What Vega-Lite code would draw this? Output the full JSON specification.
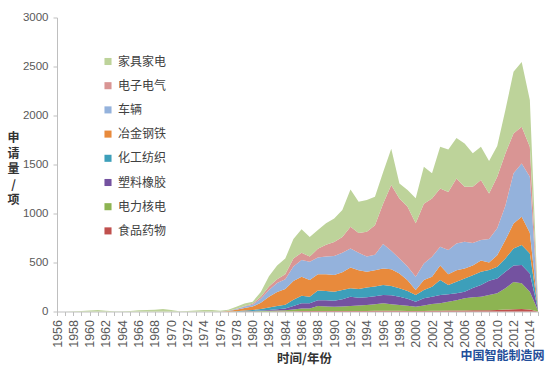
{
  "$schema": "https://vega.github.io/schema/vega-lite/v6.json",
  "width": 481,
  "height": 294,
  "autosize": {"type": "none"},
  "padding": {"left": 57, "top": 17.5, "right": 10, "bottom": 61.5},
  "background": "white",
  "config": {"view": {"stroke": null}, "font": "Noto Sans CJK SC"},
  "datasets": {
    "names": [
      {"key": "furn", "series": "家具家电", "k": 8},
      {"key": "elec", "series": "电子电气", "k": 7},
      {"key": "vehicle", "series": "车辆", "k": 6},
      {"key": "metal", "series": "冶金钢铁", "k": 5},
      {"key": "chem", "series": "化工纺织", "k": 4},
      {"key": "plastic", "series": "塑料橡胶", "k": 3},
      {"key": "power", "series": "电力核电", "k": 2},
      {"key": "food", "series": "食品药物", "k": 1}
    ]
  },
  "data": {"values": [
    {"year":1956,"food":0,"power":0,"plastic":0,"chem":0,"metal":0,"vehicle":0,"elec":0,"furn":0},
    {"year":1957,"food":0,"power":0,"plastic":0,"chem":0,"metal":0,"vehicle":0,"elec":0,"furn":0},
    {"year":1958,"food":0,"power":0,"plastic":0,"chem":0,"metal":0,"vehicle":0,"elec":0,"furn":2},
    {"year":1959,"food":0,"power":0,"plastic":0,"chem":0,"metal":0,"vehicle":0,"elec":0,"furn":5},
    {"year":1960,"food":0,"power":0,"plastic":0,"chem":0,"metal":0,"vehicle":0,"elec":0,"furn":10},
    {"year":1961,"food":0,"power":0,"plastic":0,"chem":0,"metal":0,"vehicle":0,"elec":0,"furn":15},
    {"year":1962,"food":0,"power":0,"plastic":0,"chem":0,"metal":0,"vehicle":0,"elec":0,"furn":8},
    {"year":1963,"food":0,"power":0,"plastic":0,"chem":0,"metal":0,"vehicle":0,"elec":0,"furn":3},
    {"year":1964,"food":0,"power":0,"plastic":0,"chem":0,"metal":0,"vehicle":0,"elec":0,"furn":2},
    {"year":1965,"food":0,"power":0,"plastic":0,"chem":0,"metal":0,"vehicle":0,"elec":0,"furn":5},
    {"year":1966,"food":0,"power":0,"plastic":0,"chem":0,"metal":0,"vehicle":0,"elec":0,"furn":12},
    {"year":1967,"food":0,"power":0,"plastic":0,"chem":0,"metal":0,"vehicle":0,"elec":0,"furn":15},
    {"year":1968,"food":0,"power":0,"plastic":0,"chem":0,"metal":0,"vehicle":0,"elec":0,"furn":18},
    {"year":1969,"food":0,"power":0,"plastic":0,"chem":0,"metal":0,"vehicle":0,"elec":0,"furn":25},
    {"year":1970,"food":0,"power":0,"plastic":0,"chem":0,"metal":0,"vehicle":0,"elec":0,"furn":15},
    {"year":1971,"food":0,"power":0,"plastic":0,"chem":0,"metal":0,"vehicle":0,"elec":0,"furn":3},
    {"year":1972,"food":0,"power":0,"plastic":0,"chem":0,"metal":0,"vehicle":0,"elec":0,"furn":5},
    {"year":1973,"food":0,"power":0,"plastic":0,"chem":0,"metal":0,"vehicle":0,"elec":0,"furn":10},
    {"year":1974,"food":0,"power":0,"plastic":0,"chem":0,"metal":0,"vehicle":0,"elec":0,"furn":15},
    {"year":1975,"food":0,"power":0,"plastic":0,"chem":0,"metal":0,"vehicle":0,"elec":0,"furn":15},
    {"year":1976,"food":0,"power":0,"plastic":0,"chem":0,"metal":0,"vehicle":0,"elec":0,"furn":8},
    {"year":1977,"food":0,"power":0,"plastic":0,"chem":0,"metal":5,"vehicle":3,"elec":0,"furn":10},
    {"year":1978,"food":0,"power":0,"plastic":0,"chem":3,"metal":15,"vehicle":8,"elec":3,"furn":20},
    {"year":1979,"food":0,"power":2,"plastic":2,"chem":6,"metal":25,"vehicle":15,"elec":6,"furn":25},
    {"year":1980,"food":0,"power":3,"plastic":3,"chem":9,"metal":35,"vehicle":20,"elec":10,"furn":20},
    {"year":1981,"food":1,"power":4,"plastic":5,"chem":15,"metal":65,"vehicle":40,"elec":20,"furn":50},
    {"year":1982,"food":1,"power":7,"plastic":7,"chem":25,"metal":110,"vehicle":70,"elec":35,"furn":105},
    {"year":1983,"food":2,"power":8,"plastic":12,"chem":33,"metal":145,"vehicle":90,"elec":40,"furn":140},
    {"year":1984,"food":2,"power":10,"plastic":18,"chem":40,"metal":160,"vehicle":100,"elec":50,"furn":160},
    {"year":1985,"food":3,"power":17,"plastic":35,"chem":65,"metal":190,"vehicle":150,"elec":80,"furn":200},
    {"year":1986,"food":4,"power":26,"plastic":55,"chem":75,"metal":195,"vehicle":170,"elec":75,"furn":240},
    {"year":1987,"food":4,"power":26,"plastic":55,"chem":65,"metal":171,"vehicle":187,"elec":52,"furn":200},
    {"year":1988,"food":5,"power":50,"plastic":60,"chem":100,"metal":165,"vehicle":170,"elec":90,"furn":191},
    {"year":1989,"food":5,"power":45,"plastic":65,"chem":95,"metal":170,"vehicle":180,"elec":120,"furn":220},
    {"year":1990,"food":5,"power":44,"plastic":61,"chem":92,"metal":170,"vehicle":194,"elec":144,"furn":240},
    {"year":1991,"food":5,"power":47,"plastic":73,"chem":95,"metal":180,"vehicle":200,"elec":160,"furn":275},
    {"year":1992,"food":6,"power":50,"plastic":95,"chem":85,"metal":214,"vehicle":194,"elec":221,"furn":380},
    {"year":1993,"food":6,"power":54,"plastic":80,"chem":90,"metal":190,"vehicle":180,"elec":200,"furn":320},
    {"year":1994,"food":6,"power":60,"plastic":79,"chem":101,"metal":160,"vehicle":154,"elec":254,"furn":323},
    {"year":1995,"food":7,"power":68,"plastic":80,"chem":100,"metal":165,"vehicle":160,"elec":300,"furn":291},
    {"year":1996,"food":8,"power":75,"plastic":85,"chem":102,"metal":170,"vehicle":250,"elec":410,"furn":320},
    {"year":1997,"food":8,"power":67,"plastic":90,"chem":95,"metal":170,"vehicle":190,"elec":670,"furn":370},
    {"year":1998,"food":7,"power":59,"plastic":85,"chem":85,"metal":153,"vehicle":153,"elec":612,"furn":153},
    {"year":1999,"food":6,"power":52,"plastic":72,"chem":80,"metal":110,"vehicle":140,"elec":610,"furn":169},
    {"year":2000,"food":5,"power":44,"plastic":51,"chem":68,"metal":51,"vehicle":136,"elec":545,"furn":255},
    {"year":2001,"food":6,"power":54,"plastic":74,"chem":85,"metal":102,"vehicle":169,"elec":610,"furn":377},
    {"year":2002,"food":7,"power":69,"plastic":75,"chem":102,"metal":102,"vehicle":204,"elec":595,"furn":256},
    {"year":2003,"food":8,"power":77,"plastic":83,"chem":153,"metal":149,"vehicle":191,"elec":595,"furn":425},
    {"year":2004,"food":9,"power":91,"plastic":75,"chem":95,"metal":110,"vehicle":247,"elec":593,"furn":434},
    {"year":2005,"food":10,"power":105,"plastic":70,"chem":119,"metal":116,"vehicle":275,"elec":663,"furn":412},
    {"year":2006,"food":11,"power":123,"plastic":68,"chem":136,"metal":102,"vehicle":272,"elec":561,"furn":442},
    {"year":2007,"food":12,"power":133,"plastic":95,"chem":130,"metal":100,"vehicle":230,"elec":573,"furn":341},
    {"year":2008,"food":13,"power":138,"plastic":119,"chem":136,"metal":114,"vehicle":210,"elec":611,"furn":340},
    {"year":2009,"food":14,"power":154,"plastic":146,"chem":109,"metal":77,"vehicle":240,"elec":465,"furn":330},
    {"year":2010,"food":16,"power":169,"plastic":153,"chem":119,"metal":118,"vehicle":275,"elec":525,"furn":315},
    {"year":2011,"food":20,"power":216,"plastic":170,"chem":136,"metal":187,"vehicle":351,"elec":533,"furn":442},
    {"year":2012,"food":22,"power":279,"plastic":169,"chem":174,"metal":255,"vehicle":511,"elec":407,"furn":629},
    {"year":2013,"food":25,"power":262,"plastic":187,"chem":204,"metal":289,"vehicle":543,"elec":375,"furn":660},
    {"year":2014,"food":20,"power":182,"plastic":187,"chem":204,"metal":211,"vehicle":571,"elec":306,"furn":476},
    {"year":2015,"food":1,"power":10,"plastic":8,"chem":8,"metal":10,"vehicle":20,"elec":10,"furn":15}
  ]},
  "transform": [
    {"fold": ["food", "power", "plastic", "chem", "metal", "vehicle", "elec", "furn"], "as": ["key", "value"]},
    {"lookup": "key", "from": {"data": {"name": "names"}, "key": "key", "fields": ["series", "k"]}}
  ],
  "mark": {"type": "area", "interpolate": "linear"},
  "encoding": {
    "x": {
      "field": "year", "type": "quantitative",
      "scale": {"domain": [1956, 2015], "nice": false, "zero": false},
      "axis": {
        "values": [1956,1957,1958,1959,1960,1961,1962,1963,1964,1965,1966,1967,1968,1969,1970,1971,1972,1973,1974,1975,1976,1977,1978,1979,1980,1981,1982,1983,1984,1985,1986,1987,1988,1989,1990,1991,1992,1993,1994,1995,1996,1997,1998,1999,2000,2001,2002,2003,2004,2005,2006,2007,2008,2009,2010,2011,2012,2013,2014,2015],
        "labelExpr": "datum.value % 2 === 0 ? format(datum.value, 'd') : ''",
        "labelAngle": -90,
        "labelOverlap": false,
        "labelFont": "Liberation Sans",
        "labelFontSize": 12.5,
        "labelColor": "#595959",
        "labelPadding": 4,
        "tickSize": 4,
        "tickColor": "#BFBFBF",
        "domainColor": "#BFBFBF",
        "grid": false,
        "title": "时间/年份",
        "titleFontSize": 12.5,
        "titleFontWeight": "bold",
        "titleColor": "#333333",
        "titleX": 247,
        "titleY": 46.5,
        "titleAlign": "center",
        "titleBaseline": "middle"
      }
    },
    "y": {
      "field": "value", "type": "quantitative", "stack": "zero",
      "scale": {"domain": [0, 3000], "nice": false},
      "axis": {
        "values": [0, 500, 1000, 1500, 2000, 2500, 3000],
        "format": "d",
        "labelFont": "Liberation Sans",
        "labelFontSize": 11.5,
        "labelColor": "#595959",
        "labelPadding": 5,
        "tickSize": 4,
        "tickColor": "#BFBFBF",
        "domainColor": "#BFBFBF",
        "grid": false,
        "title": ["申", "请", "量", "/", "项"],
        "titleAngle": 0,
        "titleFontSize": 12,
        "titleFontWeight": "bold",
        "titleColor": "#333333",
        "titleLineHeight": 15.5,
        "titleAlign": "center",
        "titleBaseline": "middle",
        "titleX": -44,
        "titleY": 120
      }
    },
    "color": {
      "field": "series", "type": "nominal",
      "scale": {
        "domain": ["家具家电", "电子电气", "车辆", "冶金钢铁", "化工纺织", "塑料橡胶", "电力核电", "食品药物"],
        "range": ["#BDD39A", "#D99594", "#94B2DC", "#E88A3C", "#3D9FBA", "#7452A0", "#8DB452", "#C0504D"]
      },
      "legend": {
        "orient": "none",
        "legendX": 45,
        "legendY": 38,
        "title": null,
        "padding": 0,
        "symbolType": "square",
        "symbolSize": 50,
        "symbolStrokeWidth": 0,
        "labelFontSize": 12,
        "labelColor": "#404040",
        "labelOffset": 4,
        "rowPadding": 12.2
      }
    },
    "order": {"field": "k", "type": "quantitative"}
  },
  "title": {
    "text": "中国智能制造网",
    "orient": "bottom",
    "anchor": "end",
    "color": "#1F4E9A",
    "fontSize": 12,
    "fontWeight": "bold",
    "offset": -14
  }
}
